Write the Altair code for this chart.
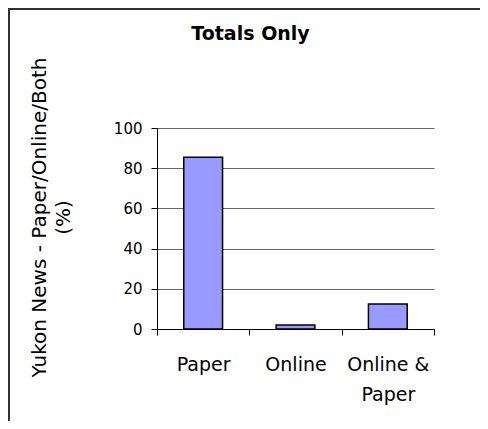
import altair as alt
import pandas as pd

categories = ["Paper", "Online", "Online & Paper"]
percent = [85.5, 2.0, 12.5]
y_ticks = [0, 20, 40, 60, 80, 100]

FONT = "DejaVu Sans"

df = pd.DataFrame({"category": categories, "percent": percent})

bars = alt.Chart(df).mark_bar(
    color="#9999FF", stroke="black", strokeWidth=1.5, width={"band": 0.42}
).encode(
    x=alt.X(
        "category:N",
        sort=categories,
        scale=alt.Scale(paddingInner=0, paddingOuter=0),
        axis=alt.Axis(
            title=None,
            labelAngle=0,
            tickBand="extent",
            tickSize=6,
            tickColor="black",
            domainColor="black",
            labelFontSize=19,
            labelFont=FONT,
            labelPadding=20,
            labelLineHeight=30,
            labelColor="black",
            labelAlign="center",
            labelBaseline="top",
            labelExpr="datum.label == 'Online & Paper' ? ['Online &', 'Paper'] : datum.label",
            grid=False,
        ),
    ),
    y=alt.Y(
        "percent:Q",
        scale=alt.Scale(domain=[0, 100]),
        axis=alt.Axis(
            values=y_ticks,
            title=["Yukon News - Paper/Online/Both", "(%)"],
            titleFont=FONT,
            titleFontSize=20,
            titleFontWeight="normal",
            titleColor="black",
            titleX=-118,
            titleY=89,
            titleAlign="center",
            titleBaseline="middle",
            titleLineHeight=24,
            tickSize=6,
            tickColor="black",
            domainColor="black",
            gridColor="#666666",
            labelFont=FONT,
            labelFontSize=15,
            labelPadding=9,
            labelColor="black",
        ),
    ),
)

frame_df = pd.DataFrame({"k": [0]})
top_line = alt.Chart(frame_df).mark_rule(color="#333333", strokeWidth=2).encode(
    x=alt.value(-149), x2=alt.value(330), y=alt.value(-119)
)
left_line = alt.Chart(frame_df).mark_rule(color="#333333", strokeWidth=2).encode(
    x=alt.value(-148), y=alt.value(-120), y2=alt.value(300)
)

chart = alt.layer(bars, top_line, left_line).properties(
    width=277,
    height=201,
    padding={"left": 149, "top": 120, "right": 46, "bottom": 92},
    autosize="none",
    title=alt.TitleParams(
        "Totals Only", font=FONT, fontSize=19, fontWeight="bold", color="black",
        anchor="middle", dx=-45, dy=41
    ),
).configure_view(stroke=None)

chart.save("out.html", embed_options={"renderer": "svg", "actions": False})
